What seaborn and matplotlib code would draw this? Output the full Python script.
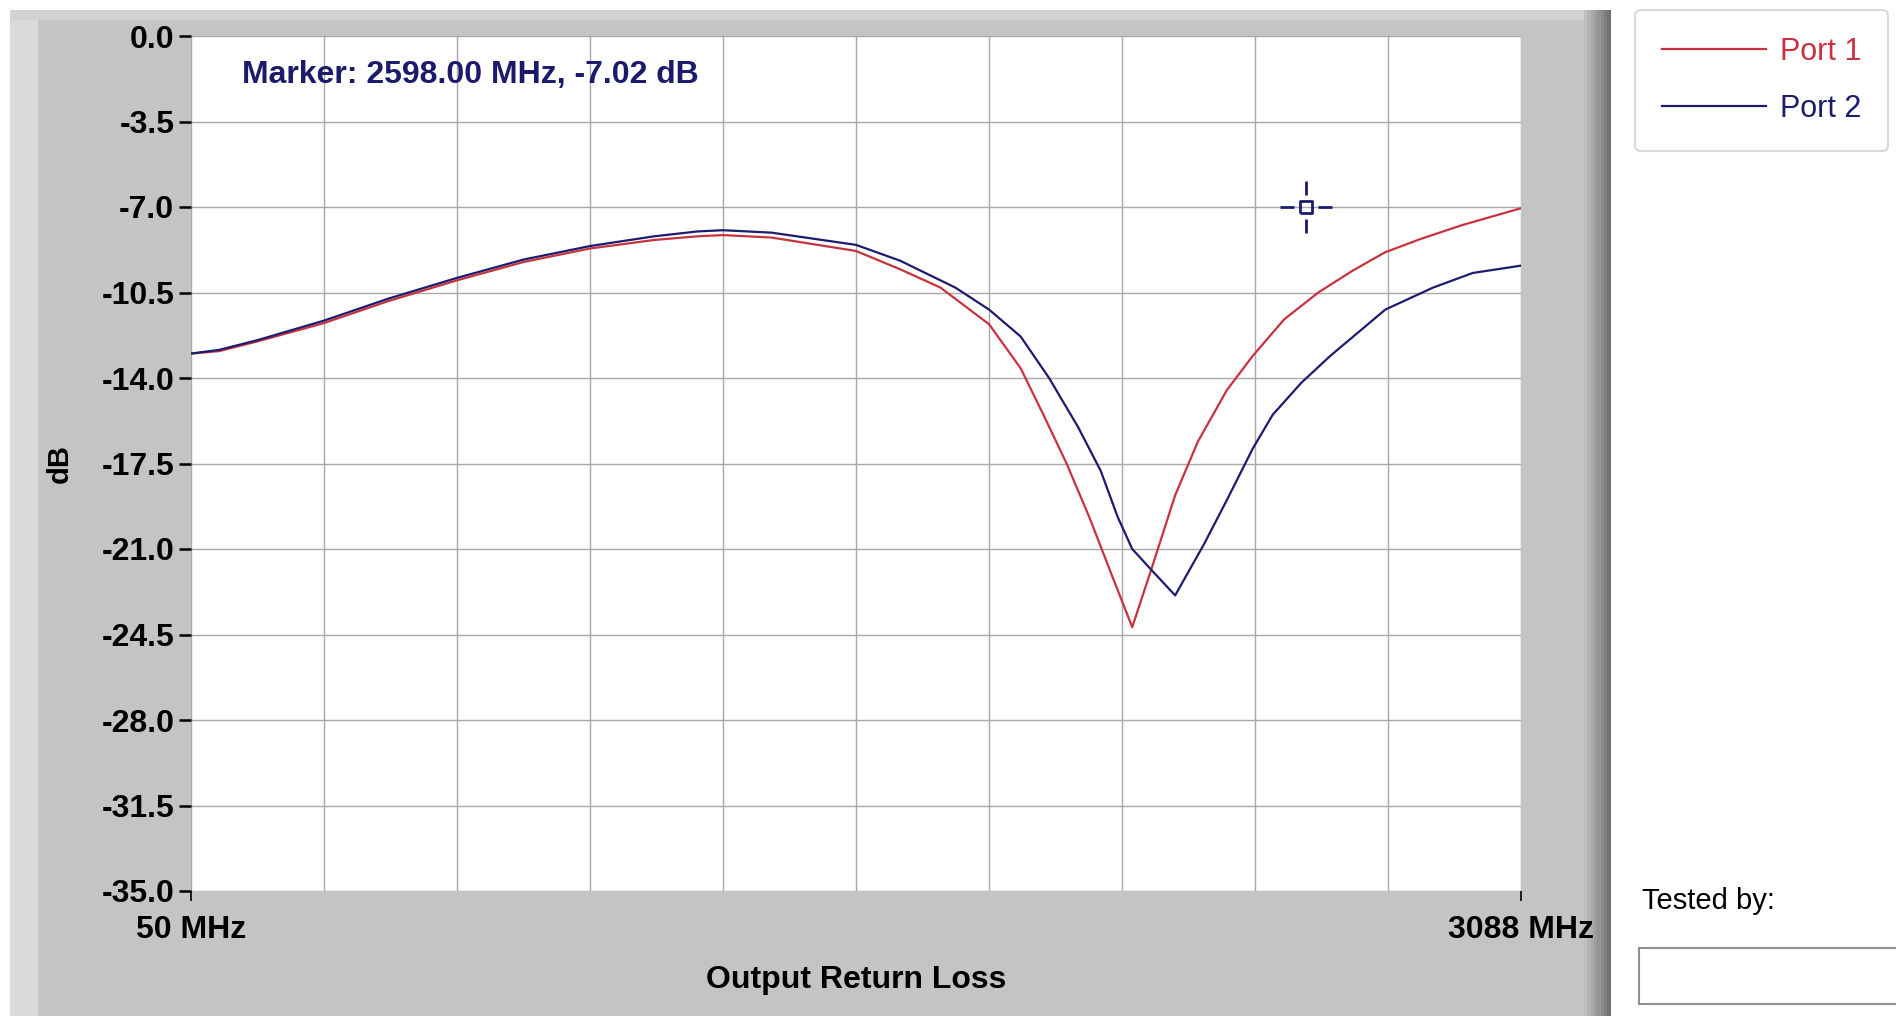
import numpy as np
import pandas as pd
import matplotlib
matplotlib.use("Agg")
import matplotlib.pyplot as plt
import seaborn as sns
from matplotlib.patches import Rectangle
from matplotlib.path import Path

# data
port1_mhz = [50, 114, 202, 354, 501, 658, 810, 961, 1108, 1207, 1265, 1376, 1569, 1670, 1762,
             1873, 1945, 1997, 2050, 2102, 2154, 2200, 2246, 2298, 2350, 2416, 2475, 2547,
             2625, 2704, 2778, 2860, 2952, 3088]
port1_db = [-13.0, -12.9, -12.5, -11.75, -10.85, -10.0, -9.25, -8.7, -8.35, -8.2, -8.15, -8.25,
            -8.8, -9.55, -10.3, -11.8, -13.6, -15.5, -17.5, -19.7, -22.1, -24.2, -21.7, -18.8,
            -16.6, -14.5, -13.1, -11.6, -10.5, -9.6, -8.85, -8.3, -7.75, -7.05]
port2_mhz = [50, 114, 202, 354, 501, 658, 810, 961, 1108, 1207, 1265, 1376, 1569, 1670, 1796,
             1873, 1945, 2010, 2076, 2128, 2167, 2200, 2246, 2298, 2364, 2416, 2475, 2521,
             2586, 2652, 2778, 2887, 2978, 3088]
port2_db = [-13.0, -12.85, -12.45, -11.65, -10.75, -9.9, -9.15, -8.6, -8.2, -8.0, -7.95, -8.05,
            -8.55, -9.2, -10.3, -11.2, -12.3, -14.0, -16.0, -17.8, -19.7, -21.0, -21.9, -22.9,
            -20.8, -19.0, -16.9, -15.5, -14.2, -13.1, -11.2, -10.3, -9.7, -9.4]
y_ticks = [0.0, -3.5, -7.0, -10.5, -14.0, -17.5, -21.0, -24.5, -28.0, -31.5, -35.0]
x_start, x_stop = 50, 3088
marker_mhz, marker_db = 2598.0, -7.02

df = pd.concat([
    pd.DataFrame({"MHz": port1_mhz, "dB": port1_db, "port": "Port 1"}),
    pd.DataFrame({"MHz": port2_mhz, "dB": port2_db, "port": "Port 2"}),
])

red, navy = "#c8323e", "#1c1c6e"

W, H = 1896, 1018
fig = plt.figure(figsize=(W / 100, H / 100), dpi=100, facecolor="white")
font = ["Liberation Sans", "DejaVu Sans"]

def px_rect(x0, y0, x1, y1, z=-5, **kw):
    # rectangle in figure pixels, y from top
    r = Rectangle((x0 / W, 1 - y1 / H), (x1 - x0) / W, (y1 - y0) / H,
                  transform=fig.transFigure, zorder=z, **kw)
    fig.patches.append(r)

# gray panel around the graph
px_rect(10, 10, 1610, 1016, facecolor="#c4c4c4", edgecolor="none")
px_rect(10, 10, 38, 1016, facecolor="#dadada", edgecolor="none")
px_rect(10, 10, 1610, 20, facecolor="#d2d2d2", edgecolor="none")
for i, c in enumerate(np.linspace(0.75, 0.45, 8)):
    px_rect(1584 + i * 3.3, 10, 1587.5 + i * 3.3, 1016, facecolor=str(c), edgecolor="none")

ax = fig.add_axes([191 / W, 1 - 891 / H, (1521 - 191) / W, (891 - 36) / H])
ax.set_zorder(1)
ax.set_facecolor("white")

sns.lineplot(data=df, x="MHz", y="dB", hue="port", estimator=None, sort=True,
             palette={"Port 1": red, "Port 2": navy}, linewidth=1.6, ax=ax,
             legend=False)

# crosshair marker: four arms with a gap and a small hollow square
sq = 0.24
arm = Path([(-1, 0), (-0.46, 0), (0.46, 0), (1, 0), (0, -1), (0, -0.46), (0, 0.46), (0, 1),
            (-sq, -sq), (sq, -sq), (sq, sq), (-sq, sq), (-sq, -sq)],
           [Path.MOVETO, Path.LINETO, Path.MOVETO, Path.LINETO, Path.MOVETO, Path.LINETO,
            Path.MOVETO, Path.LINETO, Path.MOVETO, Path.LINETO, Path.LINETO, Path.LINETO,
            Path.LINETO])
ax.plot([marker_mhz], [marker_db], marker=arm, markersize=38, markeredgewidth=2.0,
        markerfacecolor="none", color=navy, linestyle="none")

ax.set_xlim(x_start, x_stop)
ax.set_ylim(-35, 0)
ax.set_yticks(y_ticks)
ax.set_yticklabels([f"{v:.1f}" for v in y_ticks], fontsize=23, fontweight="bold", family=font)
ax.set_xticks([x_start, x_stop])
ax.set_xticklabels([f"{x_start} MHz", f"{x_stop} MHz"], fontsize=23, fontweight="bold", family=font)
ax.set_xticks(np.linspace(x_start, x_stop, 11), minor=True)
ax.tick_params(axis="y", length=9, width=1.8, pad=3, color="black")
ax.tick_params(axis="x", which="major", length=7, width=1.2, pad=10)
ax.tick_params(axis="x", which="minor", length=0)
ax.grid(True, which="both", color="#a8a8a8", linewidth=1.0)
ax.set_axisbelow(True)
for s in ax.spines.values():
    s.set_visible(False)
ax.set_xlabel("Output Return Loss", fontsize=23, fontweight="bold", family=font, labelpad=15)
ax.set_ylabel("dB", fontsize=21, fontweight="bold", family=font, labelpad=20)

ax.text(0.038, 0.954, f"Marker: {marker_mhz:.2f} MHz, {marker_db:.2f} dB", transform=ax.transAxes,
        fontsize=23, fontweight="bold", color="#1b1b6b", family=font, va="center", ha="left")

# legend box
handles = [plt.Line2D([], [], color=red, linewidth=1.6),
           plt.Line2D([], [], color=navy, linewidth=1.6)]
leg = fig.legend(handles, ["Port 1", "Port 2"], loc="upper left",
                 bbox_to_anchor=(1635 / W, 1 - 10 / H), borderaxespad=0, handlelength=3.4,
                 handletextpad=0.45, labelspacing=0.88, borderpad=0.88, frameon=True,
                 fancybox=True, edgecolor="#cfcfcf", labelcolor="linecolor",
                 prop={"family": font, "size": 22})
leg.get_frame().set_linewidth(1.5)

fig.text(1642 / W, 1 - 901 / H, "Tested by:", fontsize=21, family=font, va="center", ha="left")
px_rect(1639, 948, 1900, 1004, z=1, facecolor="white", edgecolor="#909090", linewidth=1.5)

fig.savefig("out.png", dpi=100, facecolor="white")
